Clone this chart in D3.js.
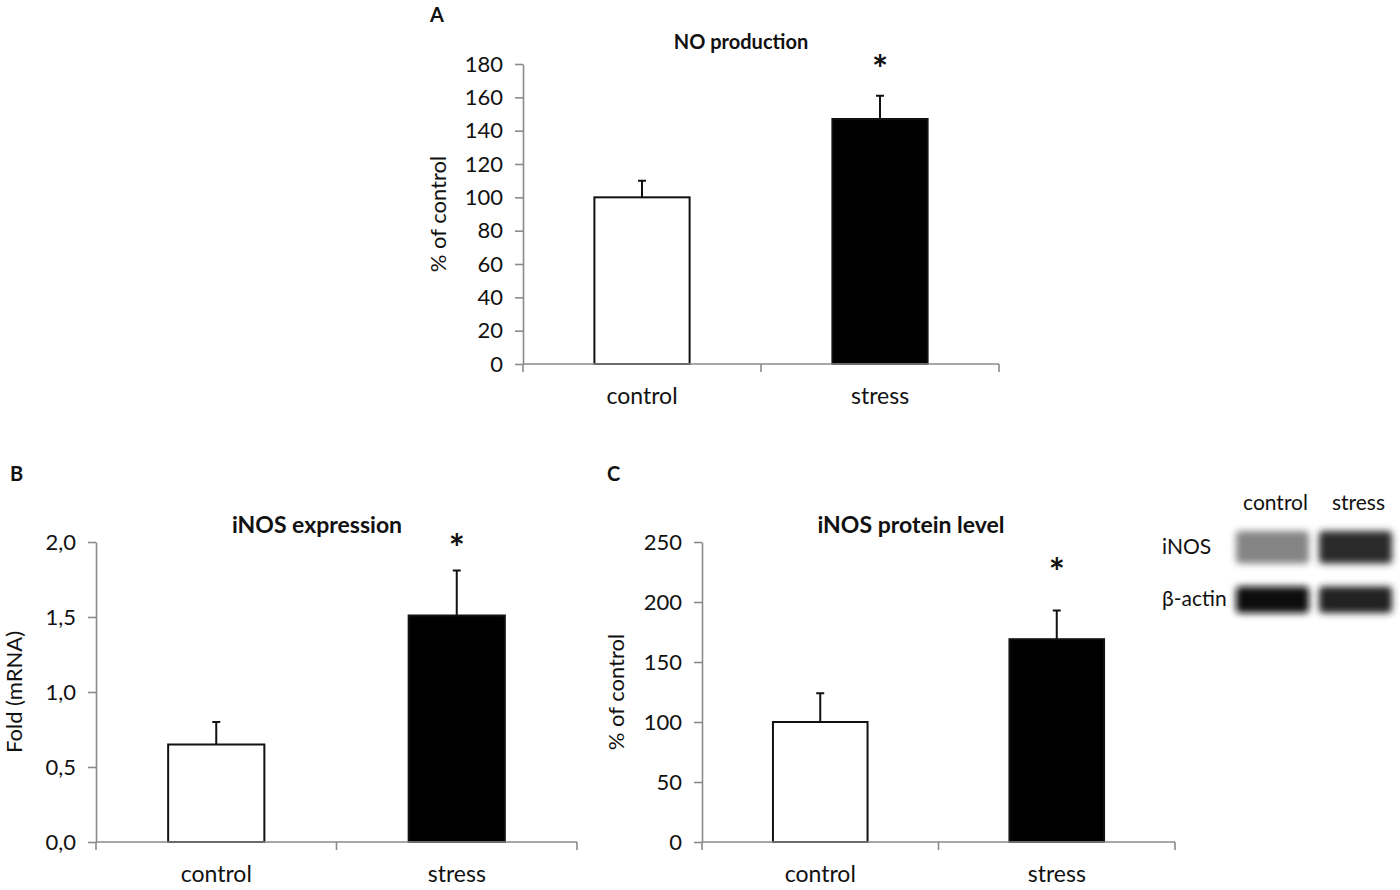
<!DOCTYPE html>
<html><head><meta charset="utf-8">
<script src="https://cdn.jsdelivr.net/npm/d3@7"></script>
<style>body{margin:0;background:#fff}svg{display:block}text{font-family:Lato,"Open Sans",sans-serif;fill:#111}</style>
</head><body><svg id="c" width="1400" height="890"></svg>
<script>
const categories = ["control", "stress"];
// Panel A: NO production
const noValues = [100, 147];
const noErrors = [10, 14];
const noTicks = [0, 20, 40, 60, 80, 100, 120, 140, 160, 180];
// Panel B: iNOS expression
const mrnaValues = [0.65, 1.51];
const mrnaErrors = [0.15, 0.30];
const mrnaTicks = [0, 0.5, 1.0, 1.5, 2.0];
const mrnaTickLabels = ["0,0", "0,5", "1,0", "1,5", "2,0"];
// Panel C: iNOS protein level
const protValues = [100, 169];
const protErrors = [24, 24];
const protTicks = [0, 50, 100, 150, 200, 250];
// Western blot inset (relative band darkness 0..1)
const blotRows = ["iNOS", "β-actin"];
const blotIntensity = [[0.45, 0.85], [1.0, 0.9]];

const svg = d3.select("#c");
const defs = svg.append("defs");
defs.append("filter").attr("id", "blur").attr("x", "-20%").attr("y", "-60%").attr("width", "140%").attr("height", "220%")
  .append("feGaussianBlur").attr("stdDeviation", 3.5);

function panel(o) {
  const g = svg.append("g");
  const x = d3.scaleBand().domain(categories).range([o.x0, o.x1]).paddingInner(0.6).paddingOuter(0.3);
  const y = d3.scaleLinear().domain([0, o.max]).range([o.y0, o.y1]);
  const xb = d3.scaleBand().domain(categories).range([o.x0, o.x1]);
  const ya = d3.axisLeft(y).tickValues(o.ticks).tickSize(8).tickSizeOuter(0).tickPadding(12)
    .tickFormat((d, i) => o.labels ? o.labels[i] : d);
  const yg = g.append("g").attr("transform", `translate(${o.x0},0)`).call(ya);
  yg.select(".domain").attr("stroke", "#8a8a8a").attr("stroke-width", 1.6);
  yg.selectAll(".tick line").attr("stroke", "#8a8a8a").attr("stroke-width", 1.6);
  yg.selectAll(".tick text").attr("font-size", o.tickFs).attr("fill", "#111").attr("font-family", "Lato");
  g.selectAll("rect.bar").data(o.values).join("rect")
    .attr("x", (d, i) => x(categories[i])).attr("width", x.bandwidth())
    .attr("y", d => y(d)).attr("height", d => y(0) - y(d))
    .attr("fill", (d, i) => i === 0 ? "#fff" : "#000").attr("stroke", "#111").attr("stroke-width", 2);
  g.selectAll("path.err").data(o.values).join("path")
    .attr("d", (d, i) => {
      const cx = x(categories[i]) + x.bandwidth() / 2, t = y(d + o.errors[i]);
      return `M${cx},${y(d)}V${t}M${cx - 4},${t}H${cx + 4}`;
    }).attr("stroke", "#111").attr("stroke-width", 2).attr("fill", "none");
  const xa = d3.axisBottom(xb).tickSize(0).tickPadding(o.catPad);
  const xg = g.append("g").attr("transform", `translate(0,${o.y0})`).call(xa);
  xg.select(".domain").remove();
  xg.selectAll(".tick text").attr("font-size", o.catFs).attr("fill", "#111").attr("font-family", "Lato");
  const bounds = [o.x0, xb(categories[1]), o.x1];
  g.append("line").attr("x1", o.x0).attr("x2", o.x1).attr("y1", y(0)).attr("y2", y(0))
    .attr("stroke", "#8a8a8a").attr("stroke-width", 1.6);
  g.selectAll("line.bt").data(bounds).join("line").attr("class", "bt")
    .attr("x1", d => d).attr("x2", d => d).attr("y1", y(0)).attr("y2", y(0) + 8)
    .attr("stroke", "#8a8a8a").attr("stroke-width", 1.6);
  g.append("text").attr("x", x("stress") + x.bandwidth() / 2).attr("y", o.starY)
    .attr("text-anchor", "middle").attr("font-size", 38).attr("font-weight", "bold").text("*");
  g.append("text").attr("x", o.titleX).attr("y", o.titleY).attr("text-anchor", "middle")
    .attr("font-size", o.titleFs).attr("font-weight", "bold").text(o.title);
  g.append("text").attr("transform", `translate(${o.ylabX},${(o.y0 + o.y1) / 2}) rotate(-90)`)
    .attr("text-anchor", "middle").attr("font-size", o.ylabFs).text(o.ylab);
  g.append("text").attr("x", o.letterX).attr("y", o.letterY).attr("font-size", 20).attr("font-weight", "bold")
    .attr("fill", "#000").text(o.letter);
}

panel({x0: 523, x1: 999, y0: 364, y1: 64, max: 180, ticks: noTicks, values: noValues, errors: noErrors,
  tickFs: 22, catFs: 23, catPad: 24, starY: 83, title: "NO production", titleX: 741, titleY: 49, titleFs: 20,
  ylab: "% of control", ylabX: 446, ylabFs: 22, letter: "A", letterX: 430, letterY: 22});
panel({x0: 96, x1: 577, y0: 842, y1: 542, max: 2.0, ticks: mrnaTicks, labels: mrnaTickLabels, values: mrnaValues, errors: mrnaErrors,
  tickFs: 22, catFs: 23, catPad: 24, starY: 562, title: "iNOS expression", titleX: 317, titleY: 533, titleFs: 23,
  ylab: "Fold (mRNA)", ylabX: 22, ylabFs: 22, letter: "B", letterX: 10, letterY: 481});
panel({x0: 702, x1: 1175, y0: 842, y1: 542, max: 250, ticks: protTicks, values: protValues, errors: protErrors,
  tickFs: 22, catFs: 23, catPad: 24, starY: 586, title: "iNOS protein level", titleX: 911, titleY: 533, titleFs: 23,
  ylab: "% of control", ylabX: 624, ylabFs: 22, letter: "C", letterX: 607, letterY: 481});

// Western blot inset
const bx = d3.scaleBand().domain(categories).range([1236, 1392]).paddingInner(0.12);
const by = d3.scaleBand().domain(blotRows).range([528, 618]).paddingInner(0.25);
const shade = d3.scaleLinear().domain([0, 1]).range(["#e8e8e8", "#0a0a0a"]);
const blot = svg.append("g");
blotRows.forEach((r, ri) => {
  categories.forEach((c, ci) => {
    blot.append("rect").attr("x", bx(c)).attr("width", bx.bandwidth())
      .attr("y", by(r) + (ri === 1 ? 7 : 3)).attr("height", by.bandwidth() - (ri === 1 ? 12 : 6))
      .attr("rx", 4).attr("fill", shade(blotIntensity[ri][ci])).attr("filter", "url(#blur)");
  });
  blot.append("text").attr("x", 1162).attr("y", by(r) + by.bandwidth() / 2 + 7)
    .attr("font-size", 21).text(r);
});
categories.forEach(c => {
  blot.append("text").attr("x", bx(c) + bx.bandwidth() / 2 + 3).attr("y", 510).attr("text-anchor", "middle")
    .attr("font-size", 21).text(c);
});
</script></body></html>
